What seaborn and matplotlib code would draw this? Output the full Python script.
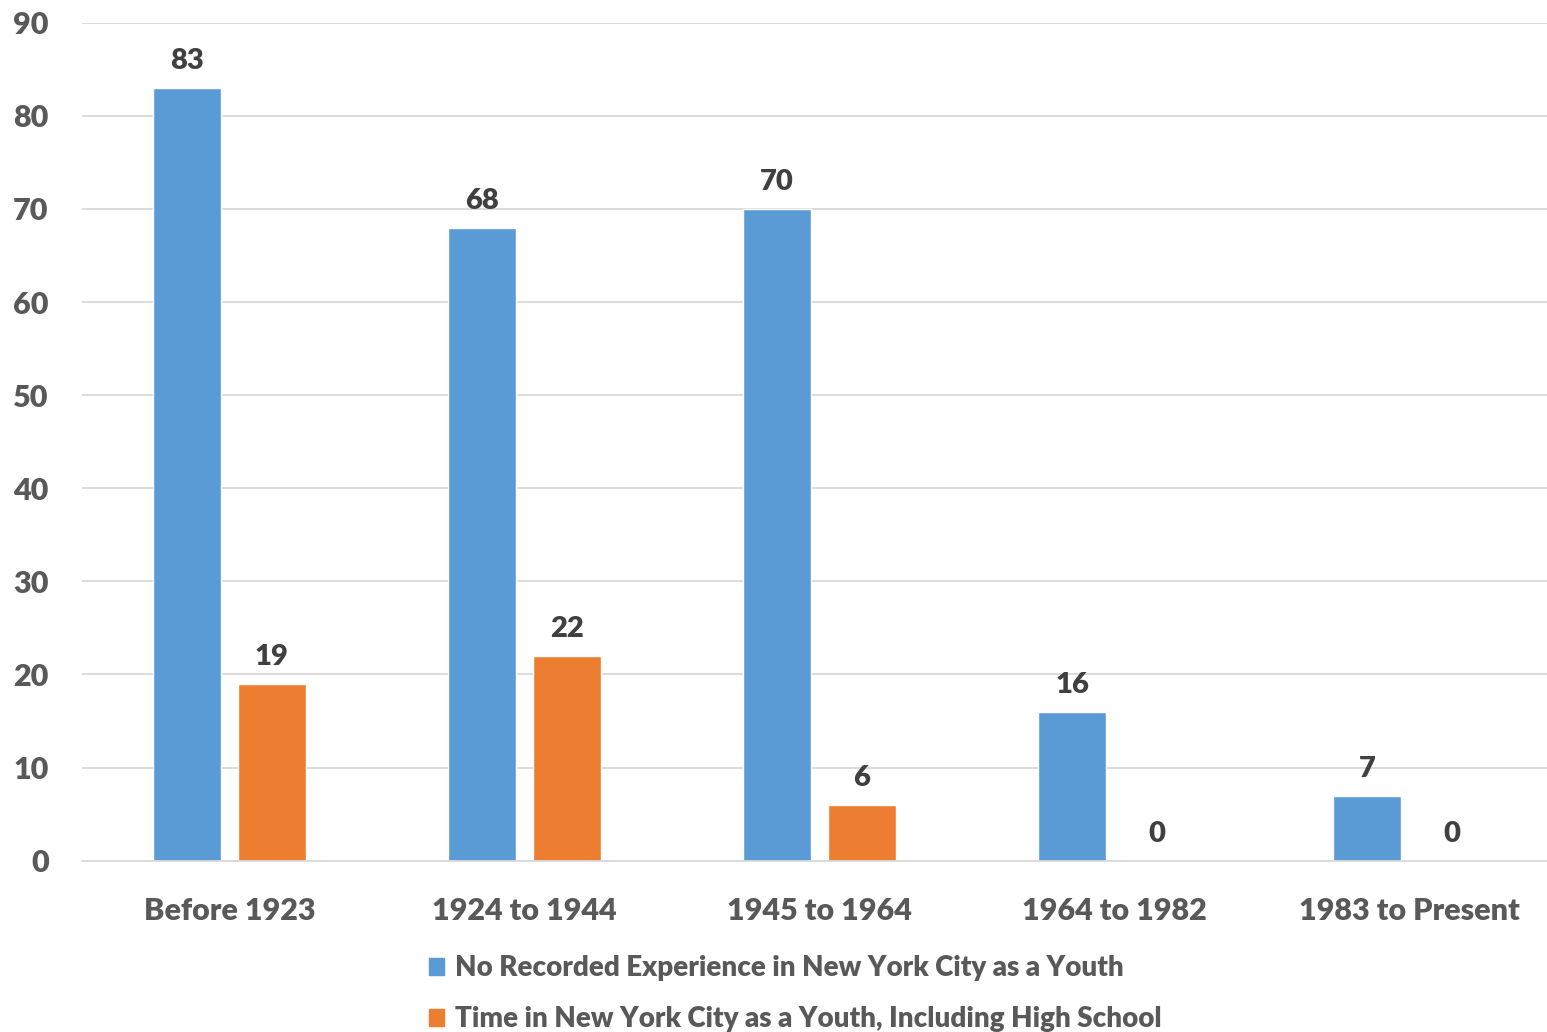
import matplotlib
matplotlib.use("Agg")
import matplotlib.pyplot as plt
import seaborn as sns
import pandas as pd

periods = ["Before 1923", "1924 to 1944", "1945 to 1964", "1964 to 1982", "1983 to Present"]
no_experience = [83, 68, 70, 16, 7]
nyc_youth = [19, 22, 6, 0, 0]
series_names = [
    "No Recorded Experience in New York City as a Youth",
    "Time in New York City as a Youth, Including High School",
]
y_ticks = list(range(0, 91, 10))

df = pd.DataFrame({
    "period": periods * 2,
    "value": no_experience + nyc_youth,
    "series": [series_names[0]] * len(periods) + [series_names[1]] * len(periods),
})

sns.set_theme(style="white")
plt.rcParams["font.family"] = ["Lato", "DejaVu Sans"]

text_color = "#595959"
label_color = "#404040"
weight = "heavy"
palette = {series_names[0]: "#5B9BD5", series_names[1]: "#ED7D31"}

fig = plt.figure(figsize=(15.47, 10.32), dpi=100)
ax = fig.add_axes([0.053, 0.166, 0.9535, 0.812])

sns.barplot(data=df, x="period", y="value", hue="series", order=periods,
            hue_order=series_names, palette=palette, width=0.573, gap=0.2,
            saturation=1, ax=ax, legend=False)

for container in ax.containers:
    ax.bar_label(container, fmt="%d", padding=10, fontsize=21, fontweight=weight,
                 color=label_color)

ax.set_ylim(0, 90)
ax.set_xlim(-0.5, len(periods) - 0.5)
ax.set_yticks(y_ticks)
ax.yaxis.grid(True, color="#D9D9D9", linewidth=1.3)
ax.set_axisbelow(True)
for side in ["top", "right", "left"]:
    ax.spines[side].set_visible(False)
ax.spines["bottom"].set_color("#D9D9D9")
ax.spines["bottom"].set_linewidth(1.3)
ax.set_xlabel("")
ax.set_ylabel("")
ax.tick_params(axis="y", length=0, pad=24, labelsize=22, labelcolor=text_color)
ax.tick_params(axis="x", length=0, pad=26, labelsize=22, labelcolor=text_color)
for lbl in ax.get_yticklabels() + ax.get_xticklabels():
    lbl.set_fontweight(weight)

handles = [plt.Rectangle((0, 0), 1, 1, color=palette[s]) for s in series_names]
leg = fig.legend(handles, series_names, loc="upper left", bbox_to_anchor=(0.270, 0.085),
                 frameon=False, fontsize=20, handlelength=0.55, handleheight=0.55,
                 handletextpad=0.38, labelspacing=0.89, borderaxespad=0)
for t in leg.get_texts():
    t.set_color(text_color)
    t.set_fontweight(weight)

fig.savefig("out.png", dpi=100)
